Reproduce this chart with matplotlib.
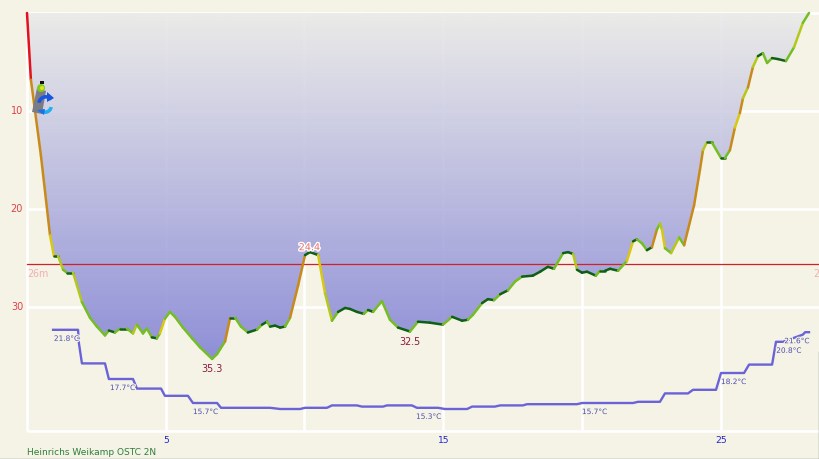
import numpy as np
import matplotlib
matplotlib.use("Agg")
import matplotlib.pyplot as plt
import matplotlib.patheffects as pe
from matplotlib.collections import LineCollection
from matplotlib.patches import Polygon, Circle, Rectangle, Wedge

# ---------- data ----------
time_min = [0,.14,.50,.83,.97,1.12,1.30,1.44,1.66,1.80,1.98,2.27,2.52,2.81,2.95,3.17,3.35,3.60,3.82,3.96,
            4.18,4.32,4.50,4.68,4.79,4.97,5.15,5.33,5.62,5.95,6.23,6.67,6.85,7.14,7.32,7.50,7.71,7.96,8.29,8.47,
            8.65,8.76,8.94,9.12,9.30,9.48,9.77,10.02,10.20,10.49,10.74,10.99,11.21,11.46,11.64,11.89,12.14,12.29,12.47,12.79,
            13.08,13.37,13.80,14.09,14.52,14.99,15.32,15.68,15.89,16.07,16.40,16.61,16.83,17.05,17.33,17.59,17.84,18.23,18.49,18.77,
            18.99,19.32,19.50,19.68,19.82,20.00,20.18,20.50,20.65,20.83,21.01,21.30,21.62,21.84,21.98,22.16,22.34,22.52,22.70,22.81,
            22.88,22.99,23.21,23.50,23.68,23.82,24.04,24.25,24.36,24.50,24.68,25.01,25.15,25.33,25.51,25.69,25.80,25.98,26.16,26.34,
            26.52,26.67,26.85,27.06,27.35,27.64,27.96,28.18]
depth_m = [0,6.8,14.5,22.7,24.8,24.8,26.2,26.5,26.5,27.8,29.5,31.1,32.0,32.9,32.4,32.6,32.2,32.2,32.7,31.8,
           32.7,32.2,33.1,33.2,32.7,31.2,30.5,31.0,32.1,33.2,34.1,35.3,34.8,33.5,31.1,31.1,32.0,32.6,32.3,31.8,
           31.5,32.0,31.9,32.1,32.0,31.1,27.8,24.7,24.4,24.7,28.6,31.4,30.5,30.1,30.2,30.5,30.7,30.3,30.5,29.4,
           31.3,32.1,32.5,31.5,31.6,31.8,31.0,31.4,31.3,30.8,29.6,29.2,29.3,28.7,28.3,27.4,26.9,26.8,26.4,25.9,
           26.1,24.5,24.4,24.6,26.2,26.5,26.4,26.8,26.3,26.3,26.1,26.3,25.3,23.3,23.1,23.5,24.2,23.9,22.1,21.5,
           22.1,24.0,24.5,22.9,23.7,22.1,19.6,16.0,14.0,13.2,13.2,14.8,14.8,14.0,11.7,10.2,8.7,7.6,5.5,4.4,
           4.1,5.1,4.6,4.7,4.9,3.5,1.0,0.0]

temp_time = [.94,1.84,1.87,1.98,2.81,2.95,3.82,3.96,4.83,4.97,5.80,5.98,6.85,6.99,8.76,9.12,9.84,10.02,10.81,10.99,
             11.89,12.07,12.83,12.97,13.87,14.05,14.81,15.06,15.86,16.04,16.86,17.05,17.87,18.02,19.82,20.00,21.84,22.02,22.81,22.99,
             23.82,24.00,24.83,25.01,25.84,26.02,26.85,26.99,27.24,27.96,28.04,28.18]
temp_c = [21.8,21.8,20.7,19.0,19.0,17.7,17.7,16.9,16.9,16.3,16.3,15.7,15.7,15.3,15.3,15.2,15.2,15.3,15.3,15.5,
          15.5,15.4,15.4,15.5,15.5,15.3,15.3,15.2,15.2,15.4,15.4,15.5,15.5,15.6,15.6,15.7,15.7,15.8,15.8,16.5,
          16.5,16.8,16.8,18.2,18.2,18.9,18.9,20.8,20.8,21.4,21.6,21.6]

depth_labels = [(6.67, 35.3, "35.3"), (13.80, 32.5, "32.5")]
peak_label = (10.20, 24.4, "24.4")
temp_labels = [(.97, 21.8, "21.8°C"), (2.99, 17.7, "17.7°C"), (5.98, 15.7, "15.7°C"), (14.02, 15.3, "15.3°C"),
               (20.00, 15.7, "15.7°C"), (25.01, 18.2, "18.2°C"), (27.0, 20.8, "20.8°C"), (27.29, 21.6, "21.6°C")]
y_ticks = [10, 20, 30]
x_ticks = [5, 15, 25]
x_grid = [0, 5, 10, 15, 20, 25]
y_grid = [0, 10, 20, 30, 42.65]
mean_depth = 25.6
device = "Heinrichs Weikamp OSTC 2N"

# ---------- look ----------
BG = "#F4F3E6"
W, H = 820, 459
PX_MIN, PX_M = 27.75, 9.8
X0, Y0 = 27, 13

fig = plt.figure(figsize=(W/100, H/100), dpi=100, facecolor=BG)
ax = fig.add_axes([0, 0, 1, 1])
ax.set_facecolor(BG)
ax.set_xlim(-X0/PX_MIN, (W-X0)/PX_MIN)
ax.set_ylim((H-Y0)/PX_M, -Y0/PX_M)
ax.axis("off")

# grid
for x in x_grid:
    ax.plot([x, x], [0, y_grid[-1]], color="white", lw=1.9, zorder=1, solid_capstyle="butt")
for y in y_grid:
    ax.plot([0, ax.get_xlim()[1]], [y, y], color="white", lw=1.9, zorder=1, solid_capstyle="butt")

# gradient fill
top = np.array([233, 233, 233]) / 255
bot = np.array([128, 128, 214]) / 255
grad_n = 40
f = (np.floor(np.linspace(0, 1, grad_n) * grad_n) / grad_n).reshape(-1, 1, 1)
grad = top.reshape(1, 1, 3) * (1 - f) + bot.reshape(1, 1, 3) * f
im = ax.imshow(grad, extent=[0, max(time_min), max(depth_m), 0], aspect="auto", zorder=2, alpha=0.88,
               interpolation="bilinear")
ax.set_xlim(-X0/PX_MIN, (W-X0)/PX_MIN)
ax.set_ylim((H-Y0)/PX_M, -Y0/PX_M)
poly = Polygon(np.column_stack([time_min, depth_m]), closed=True, transform=ax.transData, fc="none", ec="none")
ax.add_patch(poly)
im.set_clip_path(poly)

# mean depth
ax.plot([0, ax.get_xlim()[1]], [mean_depth, mean_depth], color="#D0202A", lw=0.9, zorder=3)

# profile, coloured by vertical speed
t = np.array(time_min); d = np.array(depth_m)
pts = np.column_stack([t, d])
segs = np.stack([pts[:-1], pts[1:]], axis=1)
speed = np.diff(d) / np.diff(t)
def speed_color(v):
    a = abs(v)
    if v < 0:
        bands = [(2, "#0F5F14"), (5.5, "#74BE24"), (8, "#B4C81A"), (9.5, "#D8C810"), (1e9, "#C88A18")]
    else:
        bands = [(2, "#0F5F14"), (7, "#74BE24"), (15, "#B4C81A"), (18, "#D8C810"), (30, "#C88A18"), (1e9, "#E5101A")]
    for lim, c in bands:
        if a < lim:
            return c
ax.add_collection(LineCollection(segs, colors=[speed_color(v) for v in speed], linewidths=1.8, zorder=4,
                                 capstyle="round"))

# temperature on its own scale
tx = ax.twinx()
tx.set_position([0, 0, 1, 1])
tx.set_ylim(15.7 - (H-403)/12, 15.7 + 403/12)
tx.axis("off")
tx.plot(temp_time, temp_c, color="#6A63D8", lw=1.7, zorder=5, solid_joinstyle="round")

halo = [pe.withStroke(linewidth=1.6, foreground=BG)]
for x, y, s in temp_labels:
    tx.annotate(s, (x, y), xytext=(0, -6.5), textcoords="offset points", fontsize=5.3, color="#4D4DB0",
                ha="left", va="center", path_effects=halo, zorder=6)

for x, y, s in depth_labels:
    ax.annotate(s, (x, y), xytext=(0, -7.5), textcoords="offset points", fontsize=6.9, color="#8A1A3E",
                ha="center", va="center", zorder=7)
ax.annotate(peak_label[2], peak_label[:2], xytext=(-0.5, 3.5), textcoords="offset points", fontsize=6.9,
            color="#E8706A", ha="center", va="center", zorder=8,
            path_effects=[pe.withStroke(linewidth=2, foreground="white")])

ax.text(0, mean_depth + 1.0, "26m", color="#F0B0B0", fontsize=6.9, ha="left", va="center", zorder=6)
ax.text(28.55, mean_depth + 1.0, "2", color="#F0B0B0", fontsize=6.9, ha="right", va="center", zorder=6)

for y in y_ticks:
    ax.text(-0.14, y, str(y), color="#E0404A", fontsize=7, ha="right", va="center", zorder=6)
for x in x_ticks:
    ax.text(x, 43.65, str(x), color="#2222CC", fontsize=6.6, ha="center", va="center", zorder=6)
ax.text(0, 44.8, device, color="#2E7D3A", fontsize=6.5, ha="left", va="center", zorder=6)

# overlay in pixels: dive-start icon and window edge
ov = fig.add_axes([0, 0, 1, 1], facecolor="none")
ov.set_xlim(0, W); ov.set_ylim(H, 0); ov.axis("off")
ov.add_patch(Polygon([[37, 88], [46, 91], [42, 114], [32, 112]], closed=True, fc="#7C7D84", ec="none", zorder=2))
ov.add_patch(Circle((41, 88), 4, fc="#7FCB1E", ec="none", zorder=3))
ov.add_patch(Circle((42, 88), 2, fc="#E8E020", ec="none", zorder=4))
ov.add_patch(Rectangle((40, 81), 4, 3, fc="#101010", ec="none", zorder=4))
ov.add_patch(Wedge((46, 104), 9, 190, 320, width=3.6, fc="#1A55E0", ec="none", zorder=5))
ov.add_patch(Polygon([[47, 92], [54, 98], [47, 102]], closed=True, fc="#1A55E0", ec="none", zorder=5))
ov.add_patch(Wedge((45, 106), 8, 10, 120, width=3.6, fc="#20B0F0", ec="none", zorder=5))
ov.add_patch(Polygon([[45, 109], [37, 110], [44, 115]], closed=True, fc="#1A70E8", ec="none", zorder=6))
ov.plot([0, W], [458.5, 458.5], color="#8A8A8A", lw=1)
ov.plot([819, 819], [352, H], color="#8A8A8A", lw=1)

fig.savefig("out.png", dpi=100, facecolor=BG)
